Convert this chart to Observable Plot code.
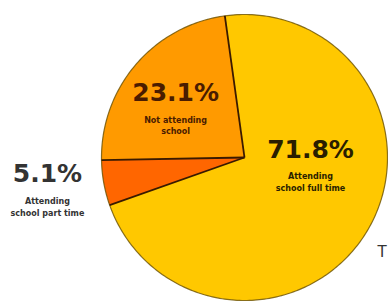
<!DOCTYPE html>
<html>
<head>
<meta charset="utf-8">
<script src="https://cdn.jsdelivr.net/npm/d3@7"></script>
<script src="https://cdn.jsdelivr.net/npm/@observablehq/plot@0.6"></script>
<style>
  html, body { margin: 0; padding: 0; background: #fff; }
  svg { display: block; }
</style>
</head>
<body>
<div id="chart"></div>
<script>
// ---- data ----
const categories = ["Attending school full time", "Attending school part time", "Not attending school"];
const shares = [71.8, 5.1, 23.1];
const percentLabels = ["71.8%", "5.1%", "23.1%"];
const subLabels = ["Attending\nschool full time", "Attending\nschool part time", "Not attending\nschool"];
const sliceColors = ["#ffc800", "#ff6600", "#ff9a00"];
const textColors = ["#2a1e00", "#333333", "#4a1c00"];

// ---- layout helpers (style, not data) ----
const W = 388, H = 303, cx = 244, cy = 157, R = 143;
const startDeg = -7.9;
// label anchors: [angle in degrees clockwise from 12 o'clock, radius in pie radii]
const labelPolar = [[83.1, 0.465], [265.1, 1.383], [-46.8, 0.661]];

const pie = d3.pie().sort(null).value(d => d.share)
  .startAngle(startDeg * Math.PI / 180)
  .endAngle(startDeg * Math.PI / 180 + 2 * Math.PI);

const table = categories.map((c, i) => ({category: c, share: shares[i], pct: percentLabels[i], sub: subLabels[i], tcolor: textColors[i]}));
const arcs = pie(table);

// polygon points for each slice
const pts = [];
arcs.forEach(a => {
  pts.push({category: a.data.category, x: 0, y: 0});
  const n = Math.max(4, Math.ceil((a.endAngle - a.startAngle) / 0.01));
  for (let k = 0; k <= n; k++) {
    const t = a.startAngle + (a.endAngle - a.startAngle) * k / n;
    pts.push({category: a.data.category, x: Math.sin(t), y: Math.cos(t)});
  }
  pts.push({category: a.data.category, x: 0, y: 0});
});

// radial separators
const seps = arcs.map(a => ({x1: 0, y1: 0, x2: Math.sin(a.startAngle), y2: Math.cos(a.startAngle)}));

// outer rim
const rim = d3.range(0, 361).map(k => ({x: Math.sin(k * Math.PI / 180), y: Math.cos(k * Math.PI / 180)}));

const labels = table.map((d, i) => {
  const t = labelPolar[i][0] * Math.PI / 180, r = labelPolar[i][1];
  return {...d, x: r * Math.sin(t), y: r * Math.cos(t)};
});

const chart = Plot.plot({
  width: W,
  height: H,
  margin: 0,
  style: {background: "#fff", fontFamily: "DejaVu Sans, Verdana, sans-serif"},
  x: {domain: [-cx / R, (W - cx) / R], axis: null},
  y: {domain: [-(H - cy) / R, cy / R], axis: null},
  color: {domain: categories, range: sliceColors},
  marks: [
    Plot.line(pts, {x: "x", y: "y", z: "category", fill: "category", stroke: "none", curve: "linear"}),
    Plot.line(rim, {x: "x", y: "y", stroke: "#6a5000", strokeWidth: 1.2, strokeOpacity: 0.8}),
    Plot.link(seps, {x1: "x1", y1: "y1", x2: "x2", y2: "y2", stroke: "#3a1a00", strokeWidth: 1.8}),
    Plot.text(labels, {x: "x", y: "y", text: "pct", fill: "tcolor", fontSize: 25, fontWeight: "bold", textAnchor: "middle"}),
    Plot.text(labels, {x: "x", y: "y", text: "sub", fill: "tcolor", fontSize: 8, fontWeight: "bold", textAnchor: "middle", lineAnchor: "top", lineHeight: 1.4, dy: 22}),
    Plot.text(["T"], {frameAnchor: "right", textAnchor: "start", dx: -11, dy: 100, fontSize: 15, fill: "#333"})
  ]
});
document.getElementById("chart").appendChild(chart);
</script>
</body>
</html>
